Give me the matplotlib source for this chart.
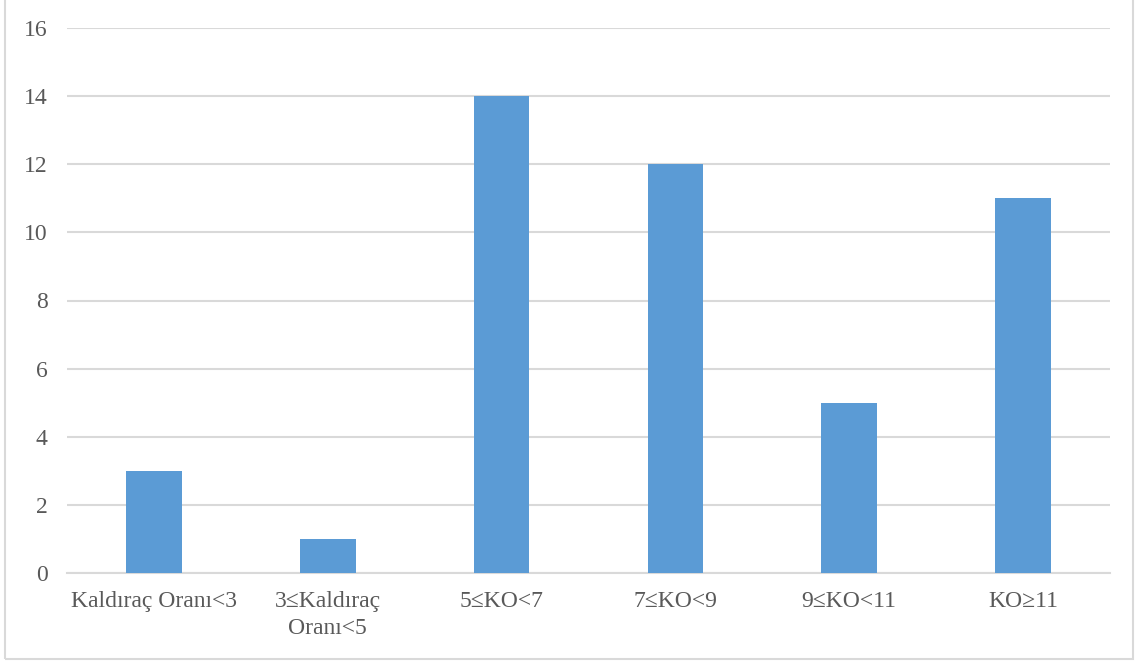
import matplotlib
matplotlib.use("Agg")
from matplotlib import pyplot as plt
from matplotlib.patches import Rectangle

plt.rcParams['font.family'] = ['Liberation Serif', 'DejaVu Serif']

# veriler
kategoriler = ["Kaldıraç Oranı<3", "3≤Kaldıraç\nOranı<5", "5≤KO<7", "7≤KO<9", "9≤KO<11", "KO≥11"]
degerler = [3, 1, 14, 12, 5, 11]
y_ticks = list(range(0, 17, 2))

bar_renk = "#5B9BD5"
grid_renk = "#D9D9D9"
yazi_renk = "#595959"

fig = plt.figure(figsize=(11.4, 6.64), dpi=100)
ax = fig.add_axes([67 / 1140, 91 / 664, 1043 / 1140, 545 / 664])

x_ = list(range(len(kategoriler)))
ax.bar(x_, degerler, width=0.32, color=bar_renk, zorder=3)

ax.set_xlim(-0.5, len(kategoriler) - 0.5)
ax.set_ylim(0, 16)
ax.set_yticks(y_ticks)
ax.set_xticks(x_)
ax.set_xticklabels(kategoriler, linespacing=1.35)

ax.grid(axis="y", color=grid_renk, linewidth=1.5, zorder=0)
for s in ["top", "right", "left"]:
    ax.spines[s].set_visible(False)
ax.spines["bottom"].set_color(grid_renk)
ax.spines["bottom"].set_linewidth(1.5)

ax.tick_params(axis="y", length=0, pad=14, labelsize=17, labelcolor=yazi_renk)
ax.tick_params(axis="x", length=0, pad=13, labelsize=17, labelcolor=yazi_renk)

# dış çerçeve
fig.patches.append(Rectangle((5 / 1140, 5 / 664), 1128 / 1140, 1.0, transform=fig.transFigure,
                             fill=False, edgecolor=grid_renk, linewidth=1.5))

plt.savefig("out.png", dpi=100)
